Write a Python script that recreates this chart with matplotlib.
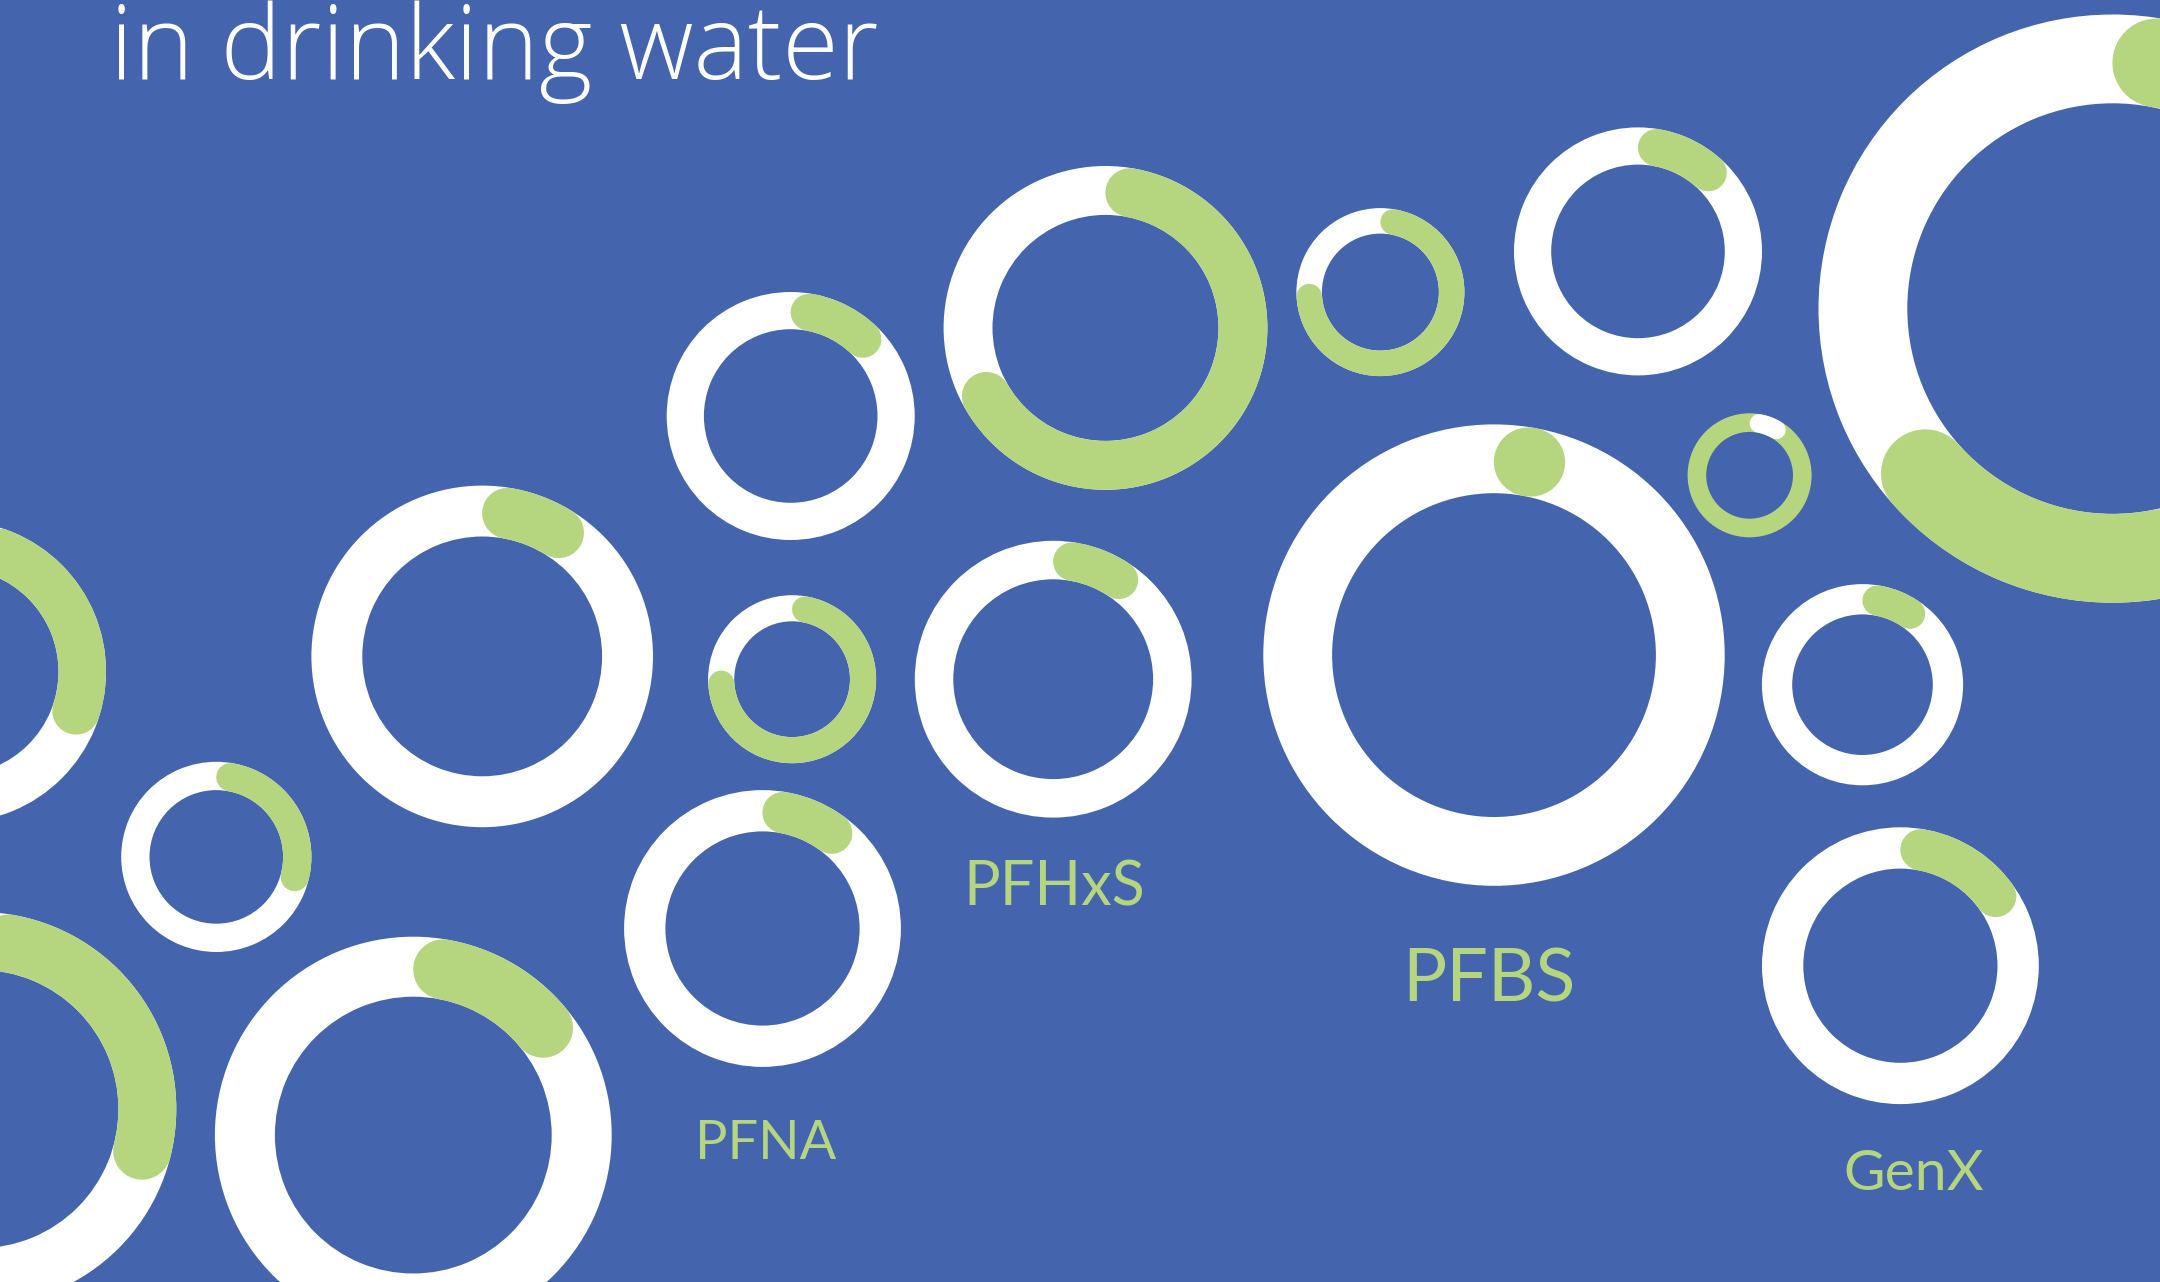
import numpy as np
import matplotlib.pyplot as plt
from matplotlib.patches import Wedge

# share of each ring filled by the arc (clockwise from 12 o'clock)
shares = [0.30, 0.29, 0.29, 0.088, 0.14, 0.12, 0.74, 0.10, 0.667,
          0.093, 0.74, 0.116, 0.03, 0.085, 0.094, 0.15, 0.635]
# ring drawn green with a white arc instead of the other way round
inverted = [False] * 13 + [True] + [False] * 3

labels = ["PFHxS", "PFBS", "PFNA", "GenX"]
title = "in drinking water"

# layout in pixels: centre x, centre y, outer radius, inner radius
cx = [-44.8, 216.3, -20.7, 482.2, 413.3, 790.7, 792.1, 762.5, 1105.5,
      1053.2, 1380.4, 1638.0, 1494.0, 1749.6, 1862.5, 1900.4, 2112.6]
cy = [671.6, 856.9, 1109.0, 656.4, 1135.1, 416.0, 679.2, 928.5, 327.9,
      679.2, 292.1, 251.4, 655.1, 475.3, 684.7, 965.7, 308.6]
r_out = [150.8, 95.1, 197.0, 170.8, 198.4, 124.0, 84.0, 138.4, 161.9,
         138.4, 84.0, 124.0, 230.7, 62.0, 100.6, 138.4, 294.1]
r_in = [103.3, 66.8, 139.1, 119.9, 138.4, 86.8, 57.9, 97.1, 113.0,
        99.9, 58.5, 86.8, 161.9, 43.4, 70.3, 97.1, 205.3]

label_x = [1053.9, 1489.2, 765.9, 1913.5]
label_y = [905.0, 1001.5, 1158.6, 1190.2]
label_size = [44, 53, 39, 41]

BG = "#4465ae"
GREEN = "#b5d67e"
WHITE = "#ffffff"

fig = plt.figure(figsize=(21.6, 12.82), dpi=100)
fig.patch.set_facecolor(BG)
ax = fig.add_axes([0, 0, 1, 1])
ax.set_facecolor(BG)
ax.set_xlim(0, 2160)
ax.set_ylim(1282, 0)
ax.axis("off")

for i in range(len(shares)):
    ring_col, arc_col = (GREEN, WHITE) if inverted[i] else (WHITE, GREEN)
    w = r_out[i] - r_in[i]
    ax.add_patch(Wedge((cx[i], cy[i]), r_out[i], 0, 360, width=w,
                       facecolor=ring_col, edgecolor="none"))
    rm = (r_out[i] + r_in[i]) / 2
    a0 = (w / 2) / rm
    a1 = max(a0 + 1e-3, shares[i] * 2 * np.pi)
    th = np.linspace(a0, a1, 200)
    ax.plot(cx[i] + rm * np.sin(th), cy[i] - rm * np.cos(th), color=arc_col,
            lw=w * 0.72, solid_capstyle="round")

for i, lab in enumerate(labels):
    ax.text(label_x[i], label_y[i], lab, color=GREEN, fontsize=label_size[i],
            family="Lato", ha="center", va="baseline")

ax.text(110.2, 78.5, title, color=WHITE, fontsize=74, family="Open Sans",
        fontweight="light", ha="left", va="baseline")

fig.savefig("out.png", dpi=100, facecolor=BG)
